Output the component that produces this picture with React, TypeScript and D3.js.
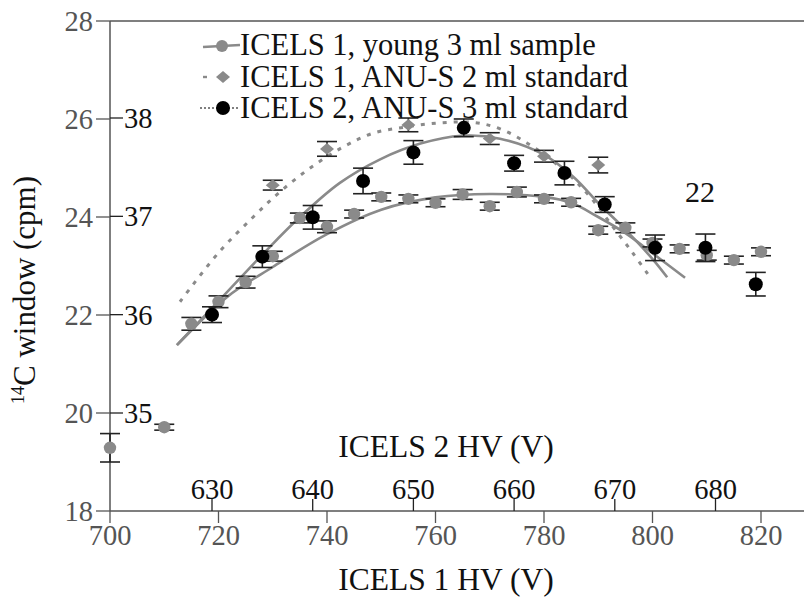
import React from "react";
import * as d3 from "d3";

// ---- data ----
const X1_TICKS = [700, 720, 740, 760, 780, 800, 820];
const X2_TICKS = [630, 640, 650, 660, 670, 680];
const Y_TICKS = [18, 20, 22, 24, 26, 28];
const Y2_TICKS = [35, 36, 37, 38];

const LEGEND = [
  "ICELS 1, young 3 ml sample",
  "ICELS 1, ANU-S 2 ml standard",
  "ICELS 2, ANU-S 3 ml standard",
];

// ICELS 1, young 3 ml sample (x: ICELS 1 HV, y: left axis)
const youngHV = [700, 710, 715, 720, 725, 730, 735, 740, 745, 750, 755, 760, 765, 770, 775, 780, 785, 790, 795, 800, 805, 810, 815, 820];
const youngCpm = [19.29, 19.71, 21.82, 22.27, 22.67, 23.2, 23.98, 23.8, 24.06, 24.41, 24.37, 24.29, 24.46, 24.22, 24.51, 24.37, 24.3, 23.73, 23.78, 23.47, 23.35, 23.22, 23.12, 23.29];
const youngErr = [0.29, 0.06, 0.13, 0.12, 0.12, 0.1, 0.1, 0.12, 0.08, 0.08, 0.08, 0.08, 0.1, 0.08, 0.1, 0.08, 0.08, 0.08, 0.1, 0.08, 0.08, 0.1, 0.08, 0.08];

// ICELS 1, ANU-S 2 ml standard (x: ICELS 1 HV, y: left axis)
const std2HV = [730, 740, 755, 770, 780, 790];
const std2Cpm = [24.65, 25.39, 25.88, 25.6, 25.24, 25.06];
const std2Err = [0.1, 0.15, 0.14, 0.12, 0.12, 0.16];

// ICELS 2, ANU-S 3 ml standard (x: ICELS 2 HV, y: inner axis)
const std3HV = [630, 635, 640, 645, 650, 655, 660, 665, 669, 674, 679, 684];
const std3Cpm = [36.0, 36.59, 36.99, 37.36, 37.65, 37.9, 37.54, 37.44, 37.12, 36.68, 36.68, 36.31];
const std3Err = [0.08, 0.11, 0.12, 0.13, 0.12, 0.09, 0.08, 0.12, 0.08, 0.13, 0.14, 0.12];

// fitted curves
const fitYoungHV = [712.4, 721.6, 730, 740, 750, 760, 770, 780, 785, 790, 795, 800, 806];
const fitYoungCpm = [21.39, 22.37, 22.98, 23.65, 24.15, 24.4, 24.47, 24.41, 24.29, 24.0, 23.67, 23.26, 22.76];

const fitStd2HV = [712.9, 720, 726.4, 731.3, 736.9, 743, 748.5, 754.7, 760.8, 766.9, 771.9, 778, 784.2, 788.5, 792.7, 796.4, 799.5];
const fitStd2Cpm = [22.27, 23.27, 24.0, 24.51, 25.0, 25.43, 25.71, 25.84, 25.92, 25.93, 25.8, 25.43, 24.9, 24.41, 23.8, 23.26, 22.78];

const fitStd3HV = [626.5, 630.3, 635, 638.7, 642.7, 646.7, 650.7, 654.8, 658.6, 662.9, 665.9, 668.5, 671, 673.8, 675.2];
const fitStd3Cpm = [35.69, 36.1, 36.61, 36.99, 37.34, 37.58, 37.74, 37.82, 37.79, 37.63, 37.4, 37.12, 36.87, 36.56, 36.38];

// ---- styling ----
const W = 804;
const H = 599;
const FONT = "'Liberation Serif', 'Times New Roman', serif";
const GREY = "#8a8a8a";
const AXIS = "#555";

export default function App() {
  const x1 = d3.scaleLinear().domain([700, 820]).range([110, 761]);
  const x2 = d3.scaleLinear().domain([630, 680]).range([212, 715.5]);
  const y = d3.scaleLinear().domain([18, 28]).range([511, 21]);
  const y2 = d3.scaleLinear().domain([35, 38]).range([413, 118]);

  const line1 = d3.line<number>().x((_, i) => x1(fitYoungHV[i])).y((d) => y(d)).curve(d3.curveCatmullRom);
  const line2 = d3.line<number>().x((_, i) => x1(fitStd2HV[i])).y((d) => y(d)).curve(d3.curveCatmullRom);
  const line3 = d3.line<number>().x((_, i) => x2(fitStd3HV[i])).y((d) => y2(d)).curve(d3.curveCatmullRom);

  const diamond = (cx: number, cy: number, s = 7) =>
    `M${cx},${cy - s * 0.85}L${cx + s},${cy}L${cx},${cy + s * 0.85}L${cx - s},${cy}Z`;

  const errBar = (key: string, cx: number, yLo: number, yHi: number) => (
    <g key={key} stroke="#222" strokeWidth={1.6}>
      <line x1={cx} x2={cx} y1={yLo} y2={yHi} />
      <line x1={cx - 10} x2={cx + 10} y1={yLo} y2={yLo} />
      <line x1={cx - 10} x2={cx + 10} y1={yHi} y2={yHi} />
    </g>
  );

  return (
    <svg width={W} height={H} style={{ position: "absolute", left: 0, top: 0 }} fontFamily={FONT}>
      <rect width={W} height={H} fill="#fff" />

      {/* frame / axes */}
      <line x1={110} x2={W} y1={21} y2={21} stroke={AXIS} strokeWidth={1.5} />
      <line x1={110} x2={110} y1={21} y2={511} stroke={AXIS} strokeWidth={1.5} />
      <line x1={110} x2={W} y1={511} y2={511} stroke={AXIS} strokeWidth={1.5} />

      {/* left axis */}
      {Y_TICKS.map((t) => (
        <g key={"y" + t}>
          <line x1={96} x2={110} y1={y(t)} y2={y(t)} stroke={AXIS} strokeWidth={1.3} />
          <text x={93} y={y(t) + 10} fontSize={28.5} fill={AXIS} textAnchor="end">{t}</text>
        </g>
      ))}
      {/* inner axis */}
      {Y2_TICKS.map((t) => (
        <g key={"y2" + t}>
          <line x1={110} x2={123} y1={y2(t)} y2={y2(t)} stroke="#222" strokeWidth={1.3} />
          <text x={124} y={y2(t) + 10} fontSize={28.5} fill="#111">{t}</text>
        </g>
      ))}

      {/* bottom axis ICELS 1 */}
      {X1_TICKS.map((t) => (
        <g key={"x1" + t}>
          <line x1={x1(t)} x2={x1(t)} y1={511} y2={523} stroke={AXIS} strokeWidth={1.3} />
          <text x={x1(t)} y={545} fontSize={28.5} fill={AXIS} textAnchor="middle">{t}</text>
        </g>
      ))}
      {/* inner axis ICELS 2 */}
      {X2_TICKS.map((t) => (
        <g key={"x2" + t}>
          <line x1={x2(t)} x2={x2(t)} y1={499} y2={511} stroke="#222" strokeWidth={1.3} />
          <text x={x2(t)} y={499} fontSize={28.5} fill="#111" textAnchor="middle">{t}</text>
        </g>
      ))}

      <text x={446} y={457} fontSize={31.5} fill="#111" textAnchor="middle">ICELS 2 HV (V)</text>
      <text x={446} y={590} fontSize={31.5} fill="#111" textAnchor="middle">ICELS 1 HV (V)</text>
      <text transform="translate(35,290) rotate(-90)" fontSize={31} fill="#111" textAnchor="middle">
        <tspan fontSize={18} dy={-11}>14</tspan>
        <tspan dy={11}>C window (cpm)</tspan>
      </text>
      <text x={700} y={202} fontSize={30} fill="#111" textAnchor="middle">22</text>

      {/* fitted curves */}
      <path d={line1(fitYoungCpm) || ""} fill="none" stroke={GREY} strokeWidth={2.6} />
      <path d={line3(fitStd3Cpm) || ""} fill="none" stroke={GREY} strokeWidth={2.6} />
      <path d={line2(fitStd2Cpm) || ""} fill="none" stroke={GREY} strokeWidth={3} strokeDasharray="4 7" />

      {/* series 1 */}
      {youngHV.map((v, i) => errBar("e1" + i, x1(v), y(youngCpm[i] - youngErr[i]), y(youngCpm[i] + youngErr[i])))}
      {youngHV.map((v, i) => (
        <circle key={"p1" + i} cx={x1(v)} cy={y(youngCpm[i])} r={6.2} fill={GREY} />
      ))}

      {/* series 2 */}
      {std2HV.map((v, i) => errBar("e2" + i, x1(v), y(std2Cpm[i] - std2Err[i]), y(std2Cpm[i] + std2Err[i])))}
      {std2HV.map((v, i) => (
        <path key={"p2" + i} d={diamond(x1(v), y(std2Cpm[i]))} fill={GREY} />
      ))}

      {/* series 3 */}
      {std3HV.map((v, i) => errBar("e3" + i, x2(v), y2(std3Cpm[i] - std3Err[i]), y2(std3Cpm[i] + std3Err[i])))}
      {std3HV.map((v, i) => (
        <circle key={"p3" + i} cx={x2(v)} cy={y2(std3Cpm[i])} r={7} fill="#000" />
      ))}

      {/* legend */}
      <g>
        <line x1={203} x2={240} y1={47} y2={45} stroke={GREY} strokeWidth={2.6} />
        <circle cx={222} cy={46} r={6} fill={GREY} />
        <line x1={203} x2={213} y1={77} y2={77} stroke={GREY} strokeWidth={2.4} strokeDasharray="4 6" />
        <path d={diamond(223, 77, 7)} fill={GREY} />
        <line x1={200} x2={240} y1={108} y2={108} stroke="#555" strokeWidth={1.5} strokeDasharray="2 2" />
        <circle cx={223} cy={108} r={7} fill="#000" />
        {LEGEND.map((t, i) => (
          <text key={"l" + i} x={240} y={55 + i * 31.5} fontSize={30.5} fill="#111">{t}</text>
        ))}
      </g>
    </svg>
  );
}
